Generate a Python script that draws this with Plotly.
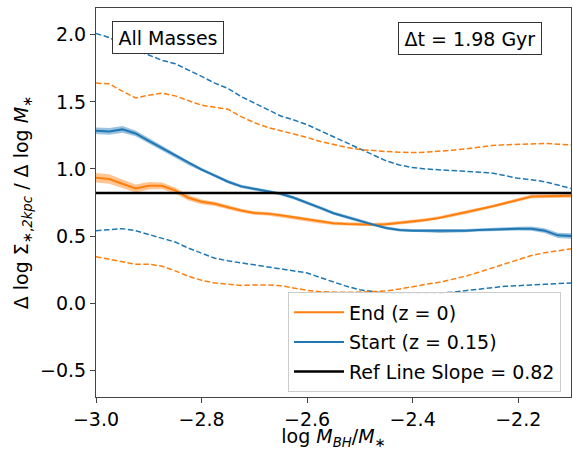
import plotly.graph_objects as go

# ---------------- data ----------------
log_mbh_ratio = [-3.0, -2.975, -2.95, -2.925, -2.9, -2.875, -2.85, -2.825, -2.8, -2.775,
                 -2.75, -2.725, -2.7, -2.675, -2.65, -2.625, -2.6, -2.575, -2.55, -2.525,
                 -2.5, -2.475, -2.45, -2.425, -2.4, -2.375, -2.35, -2.325, -2.3, -2.275,
                 -2.25, -2.225, -2.2, -2.175, -2.15, -2.125, -2.1]

end_median = [0.935, 0.925, 0.89, 0.855, 0.875, 0.875, 0.84, 0.785, 0.755, 0.74,
              0.715, 0.69, 0.672, 0.667, 0.655, 0.64, 0.62, 0.605, 0.595, 0.59,
              0.587, 0.585, 0.588, 0.598, 0.607, 0.62, 0.635, 0.655, 0.675, 0.70,
              0.72, 0.745, 0.77, 0.795, 0.797, 0.80, 0.80]
end_err = [0.035, 0.035, 0.032, 0.03, 0.028, 0.025, 0.022, 0.02, 0.018, 0.016,
           0.015, 0.014, 0.013, 0.013, 0.012, 0.012, 0.012, 0.012, 0.012, 0.012,
           0.012, 0.012, 0.012, 0.012, 0.012, 0.012, 0.012, 0.012, 0.012, 0.012,
           0.012, 0.012, 0.012, 0.013, 0.013, 0.014, 0.014]
end_upper = [1.64, 1.635, 1.58, 1.53, 1.55, 1.565, 1.545, 1.51, 1.475, 1.46,
             1.445, 1.39, 1.345, 1.31, 1.285, 1.265, 1.235, 1.205, 1.18, 1.16,
             1.145, 1.135, 1.13, 1.125, 1.122, 1.125, 1.13, 1.14, 1.15, 1.165,
             1.175, 1.18, 1.185, 1.19, 1.19, 1.185, 1.18]
end_lower = [0.345, 0.325, 0.305, 0.29, 0.29, 0.275, 0.24, 0.20, 0.17, 0.15,
             0.14, 0.132, 0.135, 0.136, 0.13, 0.11, 0.095, 0.085, 0.08, 0.08,
             0.082, 0.085, 0.09, 0.105, 0.125, 0.14, 0.155, 0.175, 0.20, 0.23,
             0.26, 0.29, 0.32, 0.355, 0.375, 0.39, 0.405]

start_median = [1.285, 1.28, 1.295, 1.265, 1.21, 1.155, 1.10, 1.045, 0.995, 0.95,
                0.905, 0.87, 0.85, 0.835, 0.815, 0.785, 0.75, 0.71, 0.67, 0.64,
                0.61, 0.585, 0.56, 0.545, 0.54, 0.54, 0.535, 0.535, 0.54, 0.545,
                0.55, 0.552, 0.555, 0.555, 0.54, 0.505, 0.50]
start_err = [0.025, 0.025, 0.025, 0.022, 0.02, 0.018, 0.016, 0.015, 0.014, 0.013,
             0.012, 0.012, 0.012, 0.012, 0.012, 0.012, 0.012, 0.012, 0.012, 0.012,
             0.012, 0.012, 0.012, 0.012, 0.012, 0.012, 0.012, 0.012, 0.012, 0.012,
             0.012, 0.013, 0.014, 0.016, 0.018, 0.02, 0.02]
start_upper = [2.01, 1.98, 1.93, 1.885, 1.85, 1.81, 1.785, 1.74, 1.69, 1.64,
               1.60, 1.54, 1.49, 1.445, 1.395, 1.365, 1.33, 1.285, 1.24, 1.19,
               1.145, 1.10, 1.06, 1.03, 1.01, 1.00, 0.995, 0.99, 0.98, 0.975,
               0.97, 0.95, 0.93, 0.92, 0.905, 0.88, 0.855]
start_lower = [0.54, 0.545, 0.555, 0.54, 0.51, 0.485, 0.455, 0.41, 0.37, 0.335,
               0.315, 0.30, 0.29, 0.275, 0.26, 0.245, 0.225, 0.19, 0.155, 0.125,
               0.10, 0.085, 0.076, 0.077, 0.08, 0.078, 0.076, 0.08, 0.093, 0.105,
               0.115, 0.125, 0.13, 0.137, 0.14, 0.145, 0.15]

ref_slope = 0.82
x_range = [-3.0, -2.1]
y_range = [-0.7, 2.2]
x_ticks = [-3.0, -2.8, -2.6, -2.4, -2.2]
y_ticks = [-0.5, 0.0, 0.5, 1.0, 1.5, 2.0]

ORANGE = "#ff7f0e"
BLUE = "#1f77b4"
FONT = "DejaVu Sans"
DASH = "5.5px,2.5px"

fig = go.Figure()

def band(x, med, err, color_rgba):
    hi = [m + e for m, e in zip(med, err)]
    lo = [m - e for m, e in zip(med, err)]
    fig.add_trace(go.Scatter(x=x + x[::-1], y=hi + lo[::-1], fill="toself",
                             fillcolor=color_rgba, line=dict(width=0),
                             mode="lines", showlegend=False, hoverinfo="skip"))

# dashed percentile lines
fig.add_trace(go.Scatter(x=log_mbh_ratio, y=start_upper, mode="lines",
                         line=dict(color=BLUE, width=1.5, dash=DASH), showlegend=False))
fig.add_trace(go.Scatter(x=log_mbh_ratio, y=start_lower, mode="lines",
                         line=dict(color=BLUE, width=1.5, dash=DASH), showlegend=False))
fig.add_trace(go.Scatter(x=log_mbh_ratio, y=end_upper, mode="lines",
                         line=dict(color=ORANGE, width=1.5, dash=DASH), showlegend=False))
fig.add_trace(go.Scatter(x=log_mbh_ratio, y=end_lower, mode="lines",
                         line=dict(color=ORANGE, width=1.5, dash=DASH), showlegend=False))

# bands
band(log_mbh_ratio, end_median, end_err, "rgba(255,127,14,0.45)")
band(log_mbh_ratio, start_median, start_err, "rgba(31,119,180,0.45)")

# medians
fig.add_trace(go.Scatter(x=log_mbh_ratio, y=end_median, mode="lines",
                         line=dict(color=ORANGE, width=2), name="End (z = 0)",
                         legendgroup="a"))
fig.add_trace(go.Scatter(x=log_mbh_ratio, y=start_median, mode="lines",
                         line=dict(color=BLUE, width=2), name="Start (z = 0.15)",
                         legendgroup="b"))
fig.add_trace(go.Scatter(x=x_range, y=[ref_slope, ref_slope], mode="lines",
                         line=dict(color="black", width=2.5),
                         name="Ref Line Slope = %.2f" % ref_slope, legendgroup="c"))

axis_common = dict(
    showline=True, linecolor="#444", linewidth=1, mirror=True,
    ticks="outside", ticklen=5, tickcolor="#444", tickwidth=1,
    showgrid=False, zeroline=False, tickformat=".1f",
    tickfont=dict(family=FONT, size=19, color="black"),
)

fig.update_layout(
    width=573, height=450,
    margin=dict(l=96, r=1, t=8, b=49),
    plot_bgcolor="white", paper_bgcolor="white",
    font=dict(family=FONT, size=19, color="black"),
    xaxis=dict(range=x_range, tickvals=x_ticks, **axis_common,
               title=dict(text="log <i>M</i><sub><i>BH</i></sub>/<i>M</i><sub>∗</sub>",
                          font=dict(family=FONT, size=19), standoff=6)),
    yaxis=dict(range=y_range, tickvals=y_ticks, **axis_common,
               title=dict(text="Δ log Σ<sub>∗,<i>2kpc</i></sub> / Δ log <i>M</i><sub>∗</sub>",
                          font=dict(family=FONT, size=19), standoff=6)),
    legend=dict(x=0.979, y=0.012, xanchor="right", yanchor="bottom",
                bgcolor="rgba(255,255,255,0.8)", bordercolor="#cccccc", borderwidth=1,
                font=dict(family=FONT, size=19), tracegroupgap=2, itemwidth=50),
    showlegend=True,
    annotations=[
        dict(text="All Masses", xref="paper", yref="paper", x=0.152, y=0.925,
             xanchor="center", yanchor="middle", showarrow=False,
             font=dict(family=FONT, size=19), bordercolor="#333", borderwidth=1,
             borderpad=3, bgcolor="white", width=104, height=25),
        dict(text="Δt = 1.98 Gyr", xref="paper", yref="paper", x=0.788, y=0.922,
             xanchor="center", yanchor="middle", showarrow=False,
             font=dict(family=FONT, size=19), bordercolor="#333", borderwidth=1,
             borderpad=3, bgcolor="white", width=136, height=25),
    ],
)

fig.write_html("out.html")
